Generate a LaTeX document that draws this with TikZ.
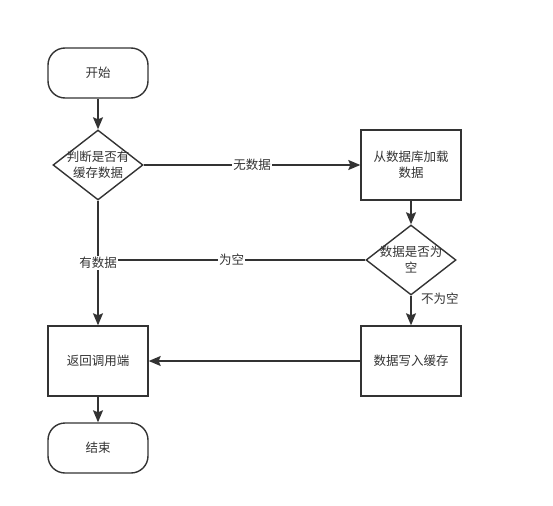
\documentclass[tikz,border=0pt]{standalone}
\usepackage{fontspec}
\setmainfont{Noto Sans CJK SC}
\usetikzlibrary{arrows.meta,shapes.geometric}
\definecolor{ink}{HTML}{333333}
\begin{document}
\begin{tikzpicture}[x=1pt,y=-1pt,line width=1.4pt,draw=ink,
                >={Stealth[length=12pt,width=10pt,inset=2pt]}]
              \tikzstyle{every node}=[text=ink, font=\fontsize{12.5}{16}\selectfont, align=center]
              \tikzstyle{terminal}=[draw, rounded corners=17pt, minimum width=100pt, minimum height=50pt]
              \tikzstyle{process}=[draw, minimum width=100pt, minimum height=70pt]
              \tikzstyle{decision}=[draw, diamond, minimum width=90pt, minimum height=70pt, inner sep=-3pt, aspect=1.3]
              \tikzstyle{edgelabel}=[fill=white, inner sep=1pt]
    \useasboundingbox (0,0) rectangle (553,505);

              \node[terminal] (start) at (98,73) {开始};
              \node[decision] (cache) at (98,165) {判断是否有\\缓存数据};
              \node[process] (load) at (411,165) {从数据库加载\\数据};
              \node[decision] (empty) at (411,260) {数据是否为\\空};
              \node[process] (write) at (411,361) {数据写入缓存};
              \node[process] (return) at (98,361) {返回调用端};
              \node[terminal] (stop) at (98,448) {结束};
              \coordinate (join) at (98,260);

              \draw[->] (start) -- (cache);
              \draw[->] (cache) -- node[edgelabel] {无数据} (load);
              \draw[->] (load) -- (empty);
              \draw (empty.west) -- node[edgelabel, pos=0.5] {为空} (join);
              \draw[->] (cache) -- node[edgelabel, pos=0.5] {有数据} (return);
              \draw[->] (empty) -- node[right, pos=0.1, xshift=6pt] {不为空} (write);
              \draw[->] (write) -- (return);
              \draw[->] (return) -- (stop);
            \end{tikzpicture}
\end{document}
